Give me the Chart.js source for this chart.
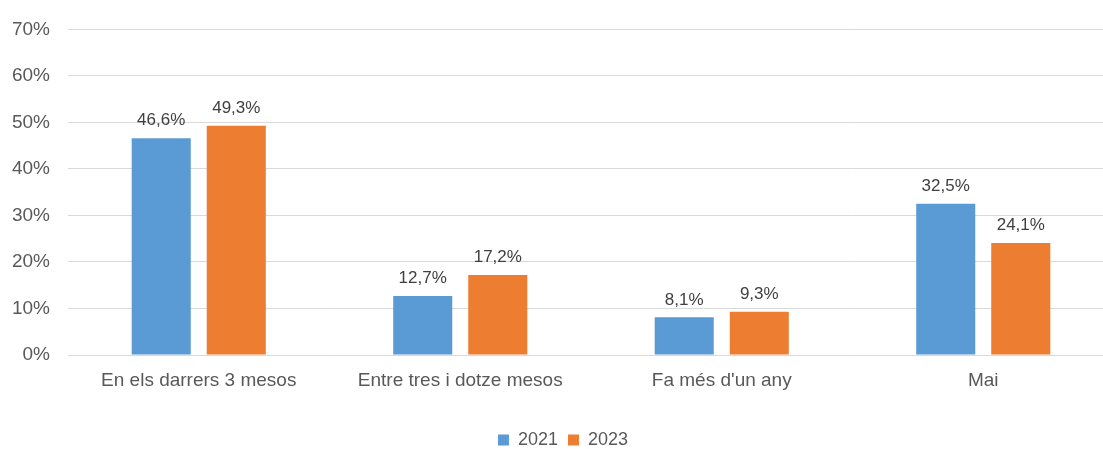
<!DOCTYPE html>
<html>
<head>
<meta charset="utf-8">
<script src="https://cdn.jsdelivr.net/npm/chart.js@4/dist/chart.umd.min.js"></script>
<style>
  html, body { margin: 0; padding: 0; background: #fff; overflow: hidden; }
  #wrap { position: relative; width: 1122px; height: 459px; }
</style>
</head>
<body>
<div id="wrap"><canvas id="chart"></canvas></div>
<script>
// values
var categories = ["En els darrers 3 mesos", "Entre tres i dotze mesos", "Fa més d'un any", "Mai"];
var values2021 = [46.6, 12.7, 8.1, 32.5];
var values2023 = [49.3, 17.2, 9.3, 24.1];
var seriesLabels = ["2021", "2023"];
var seriesColors = ["#5B9BD5", "#ED7D31"];

var textColor = "#595959";
Chart.defaults.font.family = "'Liberation Sans', Arial, sans-serif";
Chart.defaults.color = textColor;

function fmt(v) {
	return v.toFixed(1).replace(".", ",") + "%";
}

// draw value above every bar
var barLabels = {
	id: "barLabels",
	afterDatasetsDraw: function(chart) {
		var ctx = chart.ctx;
		ctx.save();
		ctx.font = "17px 'Liberation Sans', Arial, sans-serif";
		ctx.fillStyle = "#404040";
		ctx.textAlign = "center";
		ctx.textBaseline = "bottom";
		chart.data.datasets.forEach(function(ds, i) {
			chart.getDatasetMeta(i).data.forEach(function(bar, j) {
				ctx.fillText(fmt(ds.data[j]), bar.x, bar.y - 9);
			});
		});
		ctx.restore();
	}
};

new Chart(document.getElementById("chart"), {
	type: "bar",
	data: {
		labels: categories,
		datasets: [{
			label: seriesLabels[0],
			data: values2021,
			backgroundColor: seriesColors[0]
		}, {
			label: seriesLabels[1],
			data: values2023,
			backgroundColor: seriesColors[1]
		}]
	},
	options: {
		responsive: true,
		maintainAspectRatio: false,
		animation: false,
		datasets: {
			bar: { categoryPercentage: 0.574, barPercentage: 0.787 }
		},
		layout: { padding: { top: 13, left: 12, right: 8, bottom: 0 } },
		plugins: {
			tooltip: { enabled: false },
			legend: {
				position: "bottom",
				labels: {
					boxWidth: 11,
					boxHeight: 11,
					padding: 10,
					color: textColor,
					font: { size: 18 }
				}
			}
		},
		scales: {
			x: {
				grid: { display: false, drawTicks: false },
				border: { display: false },
				ticks: { padding: 14, color: textColor, font: { size: 19 } },
				afterFit: function(scale) { scale.height = 66; }
			},
			y: {
				min: 0,
				max: 70,
				grid: { color: "#D9D9D9", lineWidth: 1, drawTicks: false },
				border: { display: false },
				ticks: {
					stepSize: 10,
					padding: 18,
					color: textColor,
					font: { size: 19 },
					callback: function(v) { return v + "%"; }
				},
				afterFit: function(scale) { scale.width = 56; }
			}
		}
	},
	plugins: [barLabels]
});
</script>
</body>
</html>
